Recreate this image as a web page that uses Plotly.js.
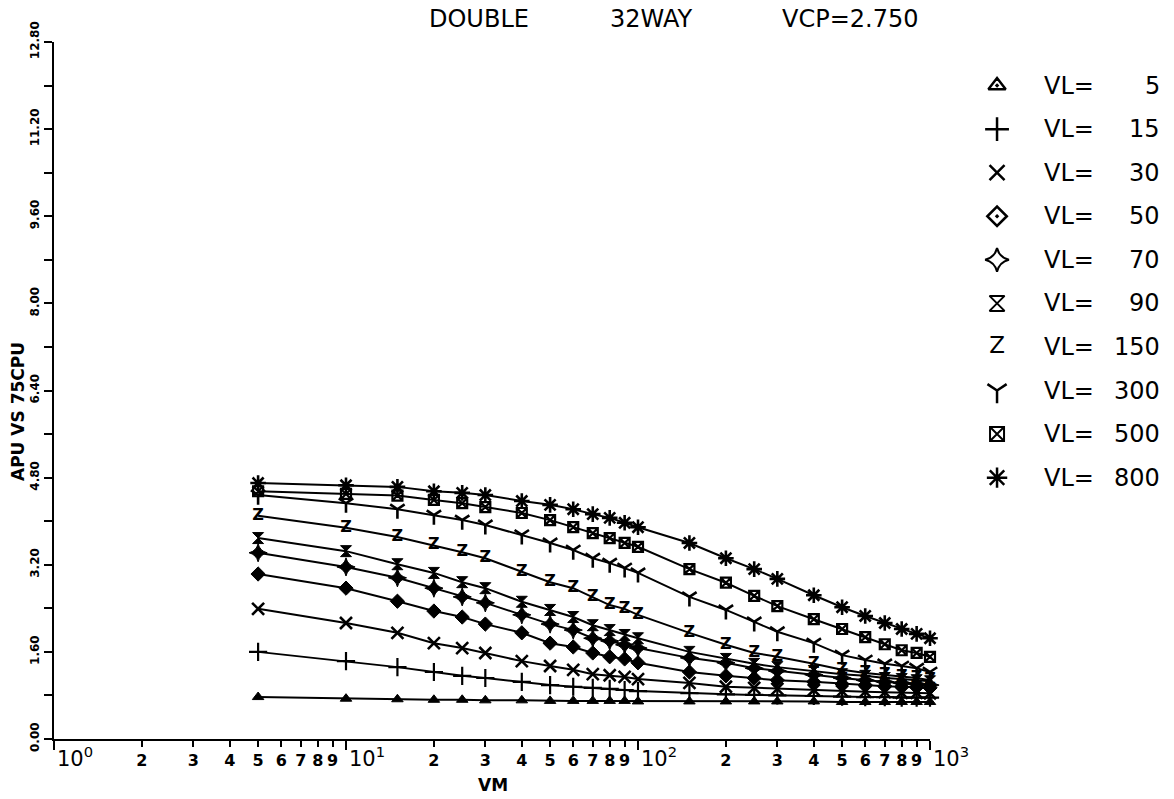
<!DOCTYPE html>
<html>
<head>
<meta charset="utf-8">
<script src="https://cdn.plot.ly/plotly-3.0.1.min.js"></script>
<style>html,body{margin:0;padding:0;background:#fff;}#chart{width:1174px;height:799px;}</style>
</head>
<body>
<div id="chart"></div>
<script>
// ---- data ----
const VM = [5,10,15,20,25,30,40,50,60,70,80,90,100,150,200,250,300,400,500,600,700,800,900,1000];
const VL_LABELS = [5,15,30,50,70,90,150,300,500,800];
const VL5   = [0.77,0.74,0.73,0.72,0.72,0.71,0.71,0.70,0.70,0.70,0.70,0.70,0.69,0.69,0.69,0.69,0.69,0.69,0.68,0.68,0.68,0.68,0.68,0.68];
const VL15  = [1.60,1.43,1.32,1.23,1.16,1.12,1.05,0.99,0.96,0.94,0.92,0.90,0.88,0.84,0.82,0.81,0.80,0.79,0.78,0.77,0.77,0.76,0.76,0.76];
const VL30  = [2.39,2.13,1.95,1.76,1.67,1.58,1.43,1.34,1.27,1.19,1.17,1.14,1.10,1.03,0.96,0.94,0.92,0.90,0.88,0.87,0.86,0.85,0.85,0.84];
const VL50  = [3.03,2.77,2.53,2.35,2.24,2.11,1.95,1.76,1.69,1.58,1.51,1.47,1.40,1.23,1.16,1.12,1.08,1.05,1.01,0.99,0.97,0.96,0.95,0.94];
const VL70  = [3.42,3.16,2.96,2.77,2.61,2.50,2.28,2.11,2.00,1.85,1.80,1.73,1.67,1.49,1.40,1.30,1.25,1.18,1.12,1.08,1.05,1.03,1.01,0.99];
const VL90  = [3.69,3.45,3.21,3.05,2.88,2.77,2.52,2.37,2.24,2.09,2.00,1.91,1.85,1.60,1.47,1.38,1.32,1.25,1.19,1.16,1.12,1.10,1.08,1.06];
const VL150 = [4.10,3.88,3.71,3.56,3.43,3.32,3.07,2.88,2.77,2.61,2.46,2.39,2.28,1.95,1.73,1.58,1.51,1.38,1.27,1.21,1.18,1.14,1.12,1.08];
const VL300 = [4.48,4.33,4.22,4.11,4.02,3.93,3.75,3.60,3.47,3.32,3.23,3.14,3.05,2.61,2.37,2.15,1.97,1.76,1.54,1.45,1.38,1.34,1.30,1.23];
const VL500 = [4.55,4.50,4.47,4.39,4.33,4.26,4.15,4.02,3.89,3.78,3.69,3.60,3.53,3.12,2.87,2.63,2.44,2.20,2.02,1.87,1.74,1.63,1.58,1.51];
const VL800 = [4.70,4.66,4.63,4.55,4.52,4.48,4.37,4.30,4.22,4.13,4.06,3.97,3.89,3.60,3.32,3.12,2.94,2.64,2.42,2.26,2.13,2.02,1.93,1.85];
const SERIES = [VL5,VL15,VL30,VL50,VL70,VL90,VL150,VL300,VL500,VL800];

const X_DIGIT_TICKS = [2,3,4,5,6,7,8,9,20,30,40,50,60,70,80,90,200,300,400,500,600,700,800,900];
const X_DECADE_TICKS = [1,10,100,1000];
const Y_TICKS = [0,1.6,3.2,4.8,6.4,8.0,9.6,11.2,12.8];
const Y_MINOR_TICKS = [0.8,2.4,4.0,5.6,7.2,8.8,10.4,12.0];
const TITLE_PARTS = ['DOUBLE','32WAY','VCP=2.750'];

// ---- styles ----
const FONT = 'DejaVu Sans, sans-serif';
// plot glyph style and legend glyph style for each series
const STYLES = [
  {symbol:'triangle-up', size:10,           lsymbol:'triangle-up-open-dot', lsize:15, llw:2.5},
  {symbol:'cross-thin-open', size:13, lw:2.2, lsymbol:'cross-thin-open', lsize:17, llw:2.5},
  {symbol:'x-thin-open', size:12, lw:2.6,   lsymbol:'x-thin-open', lsize:15, llw:2.5},
  {symbol:'diamond', size:11,               lsymbol:'diamond-open-dot', lsize:15, llw:2.5},
  {symbol:'star-diamond', size:13,          lsymbol:'star-diamond-open', lsize:17, llw:2},
  {symbol:'hourglass', size:11,             lsymbol:'hourglass-open', lsize:15, llw:2},
  {text:'Z'},
  {symbol:'y-down-open', size:12, lw:2.6,   lsymbol:'y-down-open', lsize:16, llw:2.5},
  {symbol:'square-x-open', size:10, lw:2.2, lsymbol:'square-x-open', lsize:14, llw:2},
  {symbol:'asterisk-open', size:13, lw:2.6, lsymbol:'asterisk-open', lsize:17, llw:2.5}
];

function traceFor(xs, ys, st, isLegend) {
  const t = {x: xs, y: ys, type:'scatter', showlegend:false, cliponaxis:false, hoverinfo:'skip',
             line:{color:'#000', width:2}};
  if (isLegend) { t.xaxis = 'x2'; t.yaxis = 'y2'; }
  if (st.text) {
    t.mode = isLegend ? 'text' : 'lines+text';
    t.text = ys.map(() => st.text);
    t.textposition = 'middle center';
    t.textfont = {family: FONT, size: isLegend ? 23 : 16, color:'#000', weight: isLegend ? 'normal' : 'bold'};
  } else {
    t.mode = isLegend ? 'markers' : 'lines+markers';
    t.marker = isLegend
      ? {symbol: st.lsymbol, size: st.lsize, color:'#000', line:{color:'#000', width: st.llw}}
      : {symbol: st.symbol, size: st.size, color:'#000', line:{color:'#000', width: st.lw || 1}};
  }
  return t;
}

const data = [];
SERIES.forEach((ys, i) => data.push(traceFor(VM, ys, STYLES[i], false)));
// legend glyphs on a hidden secondary axis, one row per series
const LEGEND_X = 0.21;
SERIES.forEach((ys, i) => data.push(traceFor([LEGEND_X], [i], STYLES[i], true)));

const PW = 1120, PH = 697; // paper size in px (margins l=54,r=0,t=42,b=60)
const px2x = px => (px - 54) / PW;
const px2y = py => (739 - py) / PH;

const annotations = [];
const titleCenters = [479, 651, 850];
TITLE_PARTS.forEach((s, i) => annotations.push({
  text: s, xref:'paper', yref:'paper', x: px2x(titleCenters[i]), y: px2y(19),
  xanchor:'center', yanchor:'middle', showarrow:false,
  font:{family: FONT, size: 24, color:'#000'}
}));
VL_LABELS.forEach((v, i) => {
  annotations.push({text:'VL=', xref:'x2', yref:'y2', x:0.41, y:i, xanchor:'left', yanchor:'middle',
    showarrow:false, font:{family: FONT, size: 24, color:'#000'}});
  annotations.push({text:String(v), xref:'x2', yref:'y2', x:0.947, y:i, xanchor:'right', yanchor:'middle',
    showarrow:false, font:{family: FONT, size: 24, color:'#000'}});
});
// decade labels (10^n) sit just right of their tick, as in the reference
X_DECADE_TICKS.forEach(v => {
  const e = Math.round(Math.log10(v));
  annotations.push({
    text:'10<sup>' + e + '</sup>', xref:'x', yref:'paper', x: e, y: px2y(757), xanchor:'left', yanchor:'middle',
    xshift: 1, showarrow:false, font:{family: FONT, size: 21, color:'#000'}
  });
});
annotations.push({text:'VM', xref:'paper', yref:'paper', x: px2x(493), y: px2y(785),
  xanchor:'center', yanchor:'middle', showarrow:false, font:{family: FONT, size: 17, color:'#000', weight:'bold'}});
annotations.push({text:'APU VS 75CPU', xref:'paper', yref:'paper', x: px2x(18), y: px2y(412), textangle:-90,
  xanchor:'center', yanchor:'middle', showarrow:false, font:{family: FONT, size: 17, color:'#000', weight:'bold'}});

const xTickText = X_DIGIT_TICKS.map(v => String(Math.round(v / Math.pow(10, Math.floor(Math.log10(v))))));
const yTickText = Y_TICKS.map(v => v.toFixed(2));

const layout = {
  width: 1174, height: 799,
  margin: {l:54, r:0, t:42, b:60},
  paper_bgcolor:'#fff', plot_bgcolor:'#fff',
  showlegend:false,
  xaxis: {type:'log', range:[0,3], domain:[0, 876/PW], showline:true, linecolor:'#000', linewidth:2,
    ticks:'outside', ticklen:6, tickwidth:2, tickcolor:'#000', tickmode:'array', tickvals: X_DIGIT_TICKS, ticktext: xTickText, tickangle:0,
    tickfont:{family: FONT, size:16, color:'#000', weight:'bold'}, showgrid:false, zeroline:false, fixedrange:true,
    minor:{tickmode:'array', tickvals: X_DECADE_TICKS, ticks:'outside', ticklen:9, tickwidth:2, tickcolor:'#000', showgrid:false}},
  yaxis: {range:[0,12.8], domain:[0,1], showline:true, linecolor:'#000', linewidth:2,
    ticks:'outside', ticklen:8, tickwidth:2, tickcolor:'#000', tickmode:'array', tickvals: Y_TICKS, ticktext: yTickText, tickangle:-90,
    tickfont:{family: FONT, size:12, color:'#000', weight:'bold'}, showgrid:false, zeroline:false, fixedrange:true,
    minor:{tickmode:'array', tickvals: Y_MINOR_TICKS, ticks:'outside', ticklen:8, tickwidth:2, tickcolor:'#000', showgrid:false}},
  xaxis2: {domain:[896/PW, 1], range:[0,1], anchor:'y2', visible:false, fixedrange:true},
  yaxis2: {domain:[0,1], range:[15,-1], anchor:'x2', visible:false, fixedrange:true},
  annotations: annotations
};

Plotly.newPlot('chart', data, layout, {displayModeBar:false, staticPlot:true});
</script>
</body>
</html>
